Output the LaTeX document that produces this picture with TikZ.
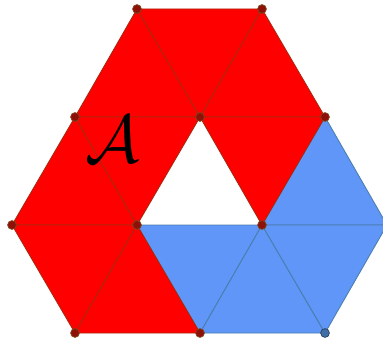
\documentclass[tikz,border=0pt]{standalone}
\usepackage{amsmath,amssymb}
\usepackage{tikz}
\usetikzlibrary{positioning}
\definecolor{tilered}{HTML}{FF0000}
\definecolor{tileblue}{HTML}{6096F8}
\definecolor{rededge}{HTML}{A8280E}
\definecolor{blueedge}{HTML}{4A7EAE}
\definecolor{dotred}{HTML}{8E1008}
\definecolor{dotrededge}{HTML}{7A4A1E}
\definecolor{dotblue}{HTML}{3F6FA6}
\definecolor{dotblueedge}{HTML}{27405E}
\begin{document}
\begin{tikzpicture}
	\tikzset{
		redtile/.style={fill=tilered, draw=rededge, line width=0.5pt, line join=round},
		bluetile/.style={fill=tileblue, draw=blueedge, line width=0.5pt, line join=round},
		vertex/.style={circle, draw=dotrededge, fill=dotred, minimum size=5pt, inner sep=0pt, line width=0.4pt},
		bluevertex/.style={vertex, draw=dotblueedge, fill=dotblue}
	}
	\useasboundingbox (0,0) rectangle (7.66,6.78);
	\foreach \i/\x in {1/1.5,2/4.0,3/6.5} {
		\coordinate (r0\i) at (\x,0.12);
		\coordinate (r2\i) at (\x,4.44);
	}
	\foreach \i/\x in {1/0.24,2/2.74,3/5.24,4/7.74}
		\coordinate (r1\i) at (\x,2.28);
	\foreach \i/\x in {1/2.74,2/5.24}
		\coordinate (r3\i) at (\x,6.60);
	\foreach \a/\b/\c in {r13/r23/r14, r12/r13/r02, r02/r13/r03, r13/r14/r03}
		\filldraw[bluetile] (\a) -- (\b) -- (\c) -- cycle;
	\foreach \a/\b/\c in {r21/r31/r22, r31/r32/r22, r22/r32/r23, r11/r21/r12, r21/r22/r12, r22/r23/r13, r11/r12/r01, r01/r12/r02}
		\filldraw[redtile] (\a) -- (\b) -- (\c) -- cycle;
	\foreach \n in {r01,r02,r11,r12,r13,r21,r22,r23,r31,r32}
		\node[vertex] (d\n) at (\n) {};
	\node[bluevertex] (dr03) at (r03) {};
	\node[scale=1.55] (setA) at (2.26,4.0) {\Huge$\mathcal{A}$};
\end{tikzpicture}
\end{document}
